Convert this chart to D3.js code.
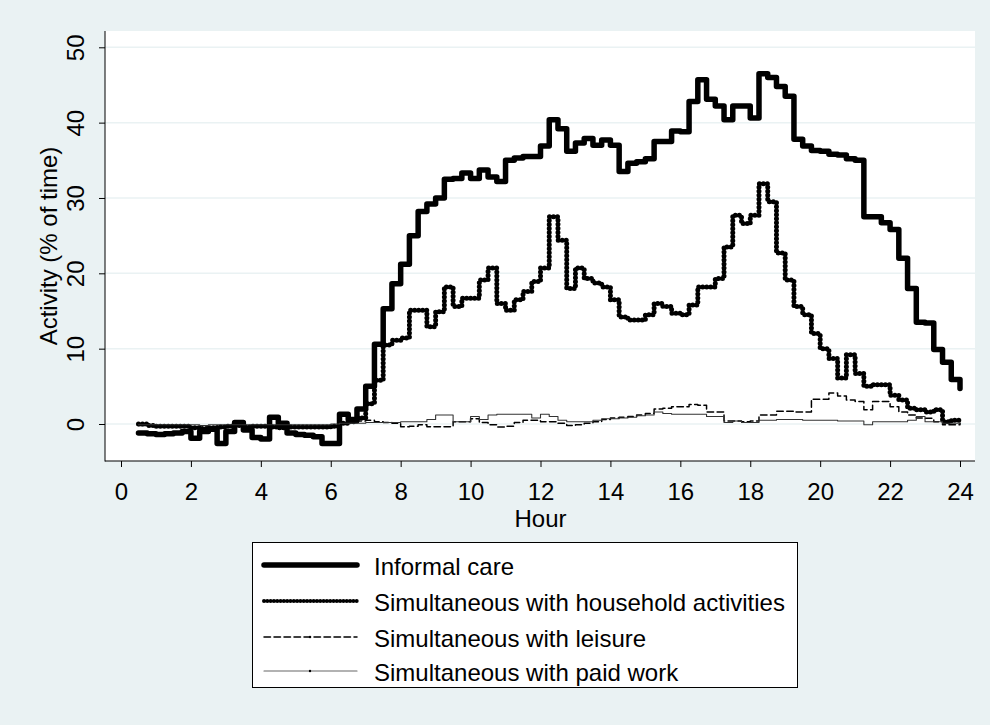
<!DOCTYPE html>
<html>
<head>
<meta charset="utf-8">
<script src="https://cdn.jsdelivr.net/npm/d3@7"></script>
<style>
  body { margin: 0; background: #eaf2f3; }
  svg { display: block; font-family: "Liberation Sans", Arial, sans-serif; }
  .axis text { font-size: 24px; fill: #000; }
</style>
</head>
<body>
<div id="chart"></div>
<script>
// Quarter-hour slots, 0:30 to 24:00
const hours = d3.range(0.5, 24.001, 0.25);

const informalCare = [
  -1.2, -1.3,
  -1.4, -1.3, -1.2, -1.0,
  -1.9, -1.0, -0.7, -2.6,
  -1.0, 0.2, -0.8, -1.8,
  -2.0, 0.9, 0.1, -1.2,
  -1.4, -1.5, -1.7, -2.6,
  -2.6, 1.3, 0.6, 2.0,
  5.0, 10.6, 15.3, 18.6,
  21.2, 25.0, 28.2, 29.2,
  30.0, 32.5, 32.6, 33.3,
  32.6, 33.7, 32.8, 32.2,
  35.0, 35.3, 35.5, 35.5,
  36.9, 40.4, 39.2, 36.2,
  37.3, 37.9, 37.0, 37.7,
  37.0, 33.5, 34.6, 34.8,
  35.2, 37.5, 37.5, 38.9,
  38.8, 42.8, 45.7, 43.1,
  42.2, 40.4, 42.2, 42.2,
  40.6, 46.5, 46.0, 44.8,
  43.5, 37.8, 36.9, 36.3,
  36.2, 35.8, 35.7, 35.2,
  35.0, 27.5, 27.5, 26.7,
  25.8, 22.0, 18.0, 13.5,
  13.4, 9.9, 8.2, 5.9,
  4.7
];

const household = [
  0.0, -0.2,
  -0.3, -0.3, -0.3, -0.3,
  -0.5, -0.6, -0.5, -0.4,
  -0.3, -0.2, -0.4, -0.3,
  -0.3, -0.4, -0.5, -0.4,
  -0.4, -0.4, -0.4, -0.4,
  -0.3, 0.1, 0.3, 0.8,
  2.7, 5.8, 10.5, 11.1,
  11.4, 15.1, 15.1, 12.9,
  14.9, 18.2, 15.6, 16.7,
  16.7, 19.1, 20.7, 16.0,
  15.1, 16.5, 17.6, 18.9,
  20.7, 27.5, 24.4, 18.0,
  20.7, 19.3, 18.7, 18.2,
  16.5, 14.2, 13.8, 13.8,
  14.5, 16.0, 15.6, 14.7,
  14.5, 15.8, 18.2, 18.2,
  19.3, 23.5, 27.7, 26.6,
  27.7, 31.9, 29.5, 22.7,
  19.1, 15.6, 14.5, 12.0,
  10.0, 8.7, 6.1, 9.2,
  6.7, 5.0, 5.2, 5.2,
  3.8, 3.2, 2.1, 1.9,
  1.6, 1.9, 0.3, 0.5,
  0.7
];

const leisure = [
  -0.2, -0.3,
  -0.4, -0.4, -0.3, -0.3,
  -0.4, -0.5, -0.4, -0.4,
  -0.3, -0.3, -0.4, -0.4,
  -0.3, -0.3, -0.4, -0.4,
  -0.4, -0.4, -0.3, -0.3,
  -0.2, 0.0, 0.2, 0.4,
  0.5, 0.3, 0.2, 0.1,
  -0.35, -0.3, -0.1, -0.35,
  -0.35, -0.35, 0.3, 0.3,
  0.7, 0.2, -0.1, -0.4,
  -0.3, 0.2, 0.5, 0.5,
  0.3, 0.3, 0.1, -0.2,
  -0.1, 0.1, 0.3, 0.6,
  0.8, 0.9, 1.0, 1.2,
  1.4, 2.0, 2.1, 2.3,
  2.3, 2.6, 2.5, 1.6,
  1.6, 0.4, 0.4, 0.3,
  0.4, 1.2, 1.2, 1.7,
  1.7, 1.6, 1.6, 3.3,
  3.3, 4.1, 3.7, 3.2,
  3.0, 1.9, 3.0, 3.0,
  2.3, 1.6, 1.2, 0.8,
  0.75, 0.3, -0.1, -0.1,
  0.1
];

const paidWork = [
  -0.1, -0.1,
  -0.1, -0.1, -0.1, -0.1,
  -0.1, -0.2, -0.1, -0.1,
  -0.1, -0.1, -0.1, -0.1,
  -0.1, -0.1, -0.1, -0.1,
  -0.1, -0.1, -0.1, -0.1,
  0.0, 0.1, 0.1, 0.1,
  0.2, 0.2, 0.2, 0.2,
  0.3, 0.3, 0.3, 0.6,
  1.2, 1.2, 0.3, 0.3,
  1.0, 0.6, 1.2, 1.3,
  1.3, 1.3, 1.3, 0.8,
  1.3, 1.0, 0.5, 0.3,
  0.3, 0.3, 0.5, 0.7,
  0.7, 0.8, 0.9, 1.1,
  1.2, 1.6, 1.4, 1.3,
  1.3, 1.3, 1.3, 1.0,
  1.0, 0.2, 0.4, 0.2,
  0.2, 0.5, 0.5, 0.6,
  0.6, 0.6, 0.5, 0.5,
  0.5, 0.5, 0.4, 0.4,
  0.4, -0.1, 0.3, 0.3,
  0.3, 0.3, 0.5, 1.0,
  0.3, 0.3, 0.1, 0.1,
  0.1
];

const seriesNames = [
  "Informal care",
  "Simultaneous with household activities",
  "Simultaneous with leisure",
  "Simultaneous with paid work"
];
const xTicks = d3.range(0, 25, 2);
const yTicks = [0, 10, 20, 30, 40, 50];

// Layout
const W = 990, H = 725;
const plot = { left: 105, right: 975, top: 31, bottom: 461 };
const fontSize = "24px";

const svg = d3.select("#chart").append("svg")
  .attr("width", W).attr("height", H);

svg.append("rect").attr("width", W).attr("height", H).attr("fill", "#eaf2f3");
svg.append("rect")
  .attr("x", plot.left).attr("y", plot.top)
  .attr("width", plot.right - plot.left).attr("height", plot.bottom - plot.top)
  .attr("fill", "#fff");

const x = d3.scaleLinear().domain([0, 24]).range([121, 960]);
const y = d3.scaleLinear().domain([0, 50]).range([424, 47.3]);

// Gridlines
svg.append("g").selectAll("line").data(yTicks).enter().append("line")
  .attr("x1", plot.left).attr("x2", plot.right)
  .attr("y1", d => y(d)).attr("y2", d => y(d))
  .attr("stroke", "#eaf2f3").attr("stroke-width", 1.5);

// Series styles
const styles = [
  { width: 5.5, dash: null, color: "#000" },
  { width: 5, dash: "0.01 4", color: "#000" },
  { width: 1.5, dash: "6.5 3.5", color: "#000" },
  { width: 1.1, dash: null, color: "#333" }
];
const seriesData = [informalCare, household, leisure, paidWork];

const line = d3.line()
  .x((d, i) => x(hours[i]))
  .y(d => y(d))
  .curve(d3.curveStepAfter);

seriesData.forEach((vals, k) => {
  const s = styles[k];
  svg.append("path")
    .datum(vals)
    .attr("d", line)
    .attr("fill", "none")
    .attr("stroke", s.color)
    .attr("stroke-width", s.width)
    .attr("stroke-linejoin", "round")
    .attr("stroke-linecap", "round")
    .attr("stroke-dasharray", s.dash);
});

// Axes
const yAxis = svg.append("g").attr("class", "axis")
  .attr("transform", `translate(${plot.left},0)`)
  .call(d3.axisLeft(y).tickValues(yTicks).tickSize(6).tickSizeOuter(0));
yAxis.select(".domain").remove();
yAxis.selectAll(".tick line").attr("stroke", "#000");
yAxis.selectAll(".tick text")
  .attr("x", null).attr("dy", null)
  .attr("text-anchor", "middle")
  .attr("transform", "translate(-21,0) rotate(-90)");

const xAxis = svg.append("g").attr("class", "axis")
  .attr("transform", `translate(0,${plot.bottom})`)
  .call(d3.axisBottom(x).tickValues(xTicks).tickSize(6).tickSizeOuter(0));
xAxis.select(".domain").remove();
xAxis.selectAll(".tick line").attr("stroke", "#000");
xAxis.selectAll(".tick text").attr("y", 39).attr("dy", null);

svg.append("line")
  .attr("x1", plot.left).attr("x2", plot.left)
  .attr("y1", plot.top).attr("y2", plot.bottom + 0.5)
  .attr("stroke", "#000").attr("stroke-width", 1);
svg.append("line")
  .attr("x1", plot.left).attr("x2", plot.right)
  .attr("y1", plot.bottom).attr("y2", plot.bottom)
  .attr("stroke", "#000").attr("stroke-width", 1);

// Axis titles
svg.append("text")
  .attr("transform", `translate(57,${(plot.top + plot.bottom) / 2}) rotate(-90)`)
  .attr("text-anchor", "middle")
  .style("font-size", fontSize)
  .text("Activity (% of time)");

svg.append("text")
  .attr("x", (x(0) + x(24)) / 2).attr("y", 527)
  .attr("text-anchor", "middle")
  .style("font-size", fontSize)
  .text("Hour");

// Legend
const legend = svg.append("g").attr("transform", "translate(252,542)");
legend.append("rect")
  .attr("x", 0.5).attr("y", 0.5).attr("width", 545).attr("height", 145)
  .attr("fill", "#fff").attr("stroke", "#000").attr("stroke-width", 1);

const rowY = [23, 59, 95, 129];
seriesNames.forEach((name, k) => {
  const s = styles[k];
  const g = legend.append("g").attr("transform", `translate(0,${rowY[k]})`);
  g.append("line")
    .attr("x1", 12).attr("x2", 105).attr("y1", 0).attr("y2", 0)
    .attr("stroke", k === 3 ? "#666" : s.color)
    .attr("stroke-width", k === 1 ? 4 : s.width)
    .attr("stroke-linecap", "round")
    .attr("stroke-dasharray", k === 1 ? "0.01 3.3" : s.dash);
  if (k >= 2) {
    g.append("circle").attr("cx", 58).attr("cy", 0).attr("r", 1.2).attr("fill", "#000");
  }
  g.append("text")
    .attr("x", 122).attr("y", 9.5)
    .style("font-size", fontSize)
    .text(name);
});
</script>
</body>
</html>
